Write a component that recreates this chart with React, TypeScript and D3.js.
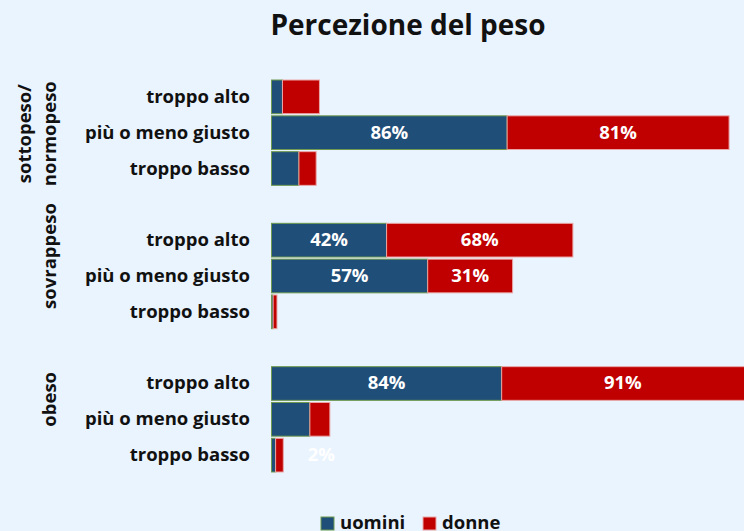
import React from "react";
import * as d3 from "d3";

const groups = ["sottopeso/normopeso", "sovrappeso", "obeso"];
const groupLines = [["sottopeso/", "normopeso"], ["sovrappeso"], ["obeso"]];
const responses = ["troppo alto", "più o meno giusto", "troppo basso"];
const uomini = [
  [4, 86, 10],
  [42, 57, 0.6],
  [84, 14, 1.5],
];
const donne = [
  [13.5, 81, 6.3],
  [68, 31, 1.4],
  [91, 7.3, 2.8],
];
const labelsU = [
  ["", "86%", ""],
  ["42%", "57%", ""],
  ["84%", "", ""],
];
const labelsD = [
  ["", "81%", ""],
  ["68%", "31%", ""],
  ["91%", "", ""],
];
const strayLabel = { group: 2, resp: 2, text: "2%", at: 18.2 };
const seriesNames = ["uomini", "donne"];
const colors = ["#1F4E79", "#C00000"];
const strokes = ["#6F9A4E", "#E9A7A7"];

const W = 744;
const H = 531;
const FONT = "'Open Sans', 'Noto Sans', sans-serif";

export default function App() {
  const slots: string[] = [];
  groups.forEach((g, gi) => {
    responses.forEach((r) => slots.push(`${gi}|${r}`));
    if (gi < groups.length - 1) slots.push(`gap${gi}`);
  });
  const y = d3.scaleBand<string>().domain(slots).range([80, 472]).paddingInner(0.06).paddingOuter(0);
  const x = d3.scaleLinear().domain([0, 100]).range([271.5, 271.5 + 274]);

  const bars: any[] = [];
  groups.forEach((g, gi) => {
    responses.forEach((r, ri) => {
      const key = `${gi}|${r}`;
      const u = uomini[gi][ri];
      const d = donne[gi][ri];
      bars.push({ key: key + "u", s: 0, x0: 0, x1: u, y: y(key)!, label: labelsU[gi][ri] });
      bars.push({ key: key + "d", s: 1, x0: u, x1: u + d, y: y(key)!, label: labelsD[gi][ri] });
    });
  });
  const bw = y.bandwidth();
  const fs = 18.5;

  return (
    <svg width={W} height={H} style={{ position: "absolute", left: 0, top: 0, background: "#EAF4FF" }}>
      <rect x={0} y={0} width={W} height={H} fill="#EAF4FF" />
      <text x={408} y={35} textAnchor="middle" fontFamily={FONT} fontWeight="bold" fontSize={28} fill="#111">
        Percezione del peso
      </text>
      {bars.map((b) => (
        <g key={b.key}>
          <rect
            x={x(b.x0)}
            y={b.y}
            width={x(b.x1) - x(b.x0)}
            height={bw}
            fill={colors[b.s]}
            stroke={strokes[b.s]}
            strokeWidth={1}
          />
          {b.label && (
            <text
              x={(x(b.x0) + Math.min(x(b.x1), W)) / 2}
              y={b.y + bw / 2 + 6}
              textAnchor="middle"
              fontFamily={FONT}
              fontWeight="bold"
              fontSize={fs}
              fill="#fff"
            >
              {b.label}
            </text>
          )}
        </g>
      ))}
      <text
        x={x(strayLabel.at)}
        y={y(`${strayLabel.group}|${responses[strayLabel.resp]}`)! + bw / 2 + 6}
        textAnchor="middle"
        fontFamily={FONT}
        fontWeight="bold"
        fontSize={fs}
        fill="#fff"
      >
        {strayLabel.text}
      </text>
      {groups.map((g, gi) =>
        responses.map((r) => {
          const key = `${gi}|${r}`;
          return (
            <text
              key={key}
              x={250}
              y={y(key)! + bw / 2 + 6}
              textAnchor="end"
              fontFamily={FONT}
              fontWeight="bold"
              fontSize={fs}
              fill="#111"
            >
              {r}
            </text>
          );
        })
      )}
      {groupLines.map((lines, gi) => {
        const top = y(`${gi}|${responses[0]}`)!;
        const bottom = y(`${gi}|${responses[2]}`)! + bw;
        const cy = gi === 0 ? (top + bottom) / 2 + 1 : (top + bottom) / 2 - 20;
        return lines.map((l, li) => {
          const cx = lines.length === 2 ? (li === 0 ? 25 : 50) : 50;
          return (
            <text
              key={gi + "-" + li}
              transform={`translate(${cx + 6},${cy}) rotate(-90)`}
              textAnchor="middle"
              fontFamily={FONT}
              fontWeight="bold"
              fontSize={fs}
              fill="#111"
            >
              {l}
            </text>
          );
        });
      })}
      {seriesNames.map((n, i) => {
        const lx = i === 0 ? 321 : 423;
        return (
          <g key={n}>
            <rect x={lx} y={517} width={13} height={13} fill={colors[i]} stroke={strokes[i]} />
            <text x={lx + 19} y={529} fontFamily={FONT} fontWeight="bold" fontSize={fs} fill="#111">
              {n}
            </text>
          </g>
        );
      })}
    </svg>
  );
}
